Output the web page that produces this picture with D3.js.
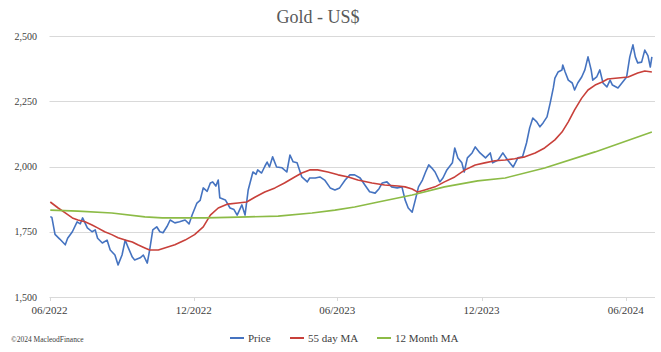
<!DOCTYPE html>
<html>
<head>
<meta charset="utf-8">
<script src="https://cdn.jsdelivr.net/npm/d3@7"></script>
<style>
  body { margin: 0; background: #fff; }
  text { font-family: "Liberation Serif", "DejaVu Serif", serif; }
</style>
</head>
<body>
<svg id="chart" width="661" height="352"></svg>
<script>
// Dias naturales desde el 01/06/2022 y valor del oro (US$)
var startDate = new Date(2022, 5, 1);

var priceDays = [1, 3, 7, 13, 20, 23, 29, 35, 39, 42, 48, 54, 58, 61, 67, 73, 77, 83, 87, 92,
  96, 100, 105, 108, 115, 119, 124, 127, 131, 136, 140, 144, 149, 153, 159, 165, 172, 177, 181, 187,
  191, 195, 200, 204, 207, 211, 214, 216, 223, 229, 234, 238, 244, 248, 252, 258, 262, 264, 269, 273,
  276, 279, 283, 288, 295, 301, 305, 309, 314, 320, 327, 330, 337, 343, 349, 356, 362, 368, 375, 381,
  387, 394, 400, 406, 413, 418, 422, 428, 434, 441, 447, 451, 455, 460, 464, 468, 473, 477, 481, 485,
  489, 495, 499, 504, 511, 514, 518, 523, 526, 530, 536, 540, 546, 553, 559, 562, 569, 575, 581, 588,
  594, 600, 605, 609, 613, 618, 622, 626, 631, 635, 639, 641, 645, 650, 651, 654, 658, 663, 666, 670,
  675, 679, 683, 687, 689, 694, 698, 702, 707, 711, 714, 721, 726, 732, 736, 740, 743, 746, 751, 755,
  759, 762, 764];
var priceValues = [1808, 1805, 1740, 1722, 1700, 1725, 1750, 1788, 1780, 1803, 1765, 1750, 1757, 1725, 1707, 1718, 1680, 1661, 1623, 1661,
  1718, 1688, 1653, 1642, 1650, 1661, 1630, 1680, 1757, 1769, 1750, 1746, 1770, 1795, 1784, 1788, 1795, 1780, 1815, 1860,
  1870, 1918, 1905, 1937, 1941, 1925, 1948, 1880, 1872, 1841, 1835, 1814, 1853, 1814, 1910, 1979, 1970, 1987, 1975, 2000,
  2017, 1998, 2037, 1998, 1995, 1979, 2044, 2018, 2014, 1960, 1941, 1956, 1956, 1960, 1948, 1918, 1910, 1918, 1948, 1968,
  1968, 1956, 1929, 1903, 1898, 1915, 1937, 1941, 1922, 1918, 1922, 1872, 1841, 1825, 1872, 1922, 1948, 1979, 2006, 1994,
  1979, 1941, 1956, 1987, 2014, 2071, 2033, 2014, 1979, 2033, 2052, 2075, 2052, 2033, 2052, 2014, 2025, 2052, 2025, 1998,
  2033, 2037, 2090, 2148, 2186, 2171, 2152, 2167, 2190, 2243, 2301, 2339, 2362, 2370, 2389, 2362, 2331, 2320, 2293, 2320,
  2343, 2370, 2420, 2370, 2331, 2343, 2370, 2320, 2305, 2331, 2312, 2301, 2320, 2343, 2420, 2466, 2420, 2397, 2400, 2446,
  2425, 2381, 2420];

var ma55Days = [1, 11, 20, 29, 36, 45, 54, 61, 70, 79, 87, 96, 105, 112, 121, 127, 138, 146, 159, 172,
  184, 195, 204, 214, 226, 239, 250, 261, 273, 286, 298, 311, 320, 330, 340, 353, 366, 379, 391, 409,
  425, 442, 451, 460, 467, 476, 489, 501, 514, 527, 540, 552, 565, 578, 590, 603, 616, 628, 641, 650,
  658, 666, 675, 683, 692, 701, 708, 721, 734, 746, 755, 764];
var ma55Values = [1864, 1841, 1822, 1803, 1795, 1788, 1776, 1765, 1750, 1739, 1727, 1718, 1711, 1700, 1688, 1680, 1680, 1688, 1700, 1718,
  1739, 1769, 1814, 1841, 1856, 1860, 1864, 1883, 1902, 1918, 1937, 1960, 1975, 1987, 1987, 1979, 1968, 1960, 1948, 1937,
  1929, 1925, 1922, 1914, 1902, 1910, 1922, 1941, 1960, 1987, 2006, 2014, 2022, 2025, 2030, 2037, 2052, 2071, 2102, 2132,
  2171, 2217, 2262, 2293, 2312, 2324, 2335, 2339, 2343, 2358, 2366, 2362];

var ma12mDays = [1, 36, 79, 121, 143, 197, 226, 252, 290, 333, 362, 387, 417, 460, 501, 543, 578, 628, 692, 764];
var ma12mValues = [1833, 1829, 1822, 1807, 1803, 1803, 1805, 1807, 1810, 1822, 1833, 1845, 1864, 1891, 1922, 1945, 1956, 1994, 2056, 2132];

var yTicks = [1500, 1750, 2000, 2250, 2500];
var xTickMonths = ["2022-06-01", "2022-12-01", "2023-06-01", "2023-12-01", "2024-06-01"];

var seriesNames = ["Price", "55 day MA", "12 Month MA"];
var seriesColors = ["#4573c0", "#c8403a", "#8cbb46"];

var svg = d3.select("#chart");
var plotLeft = 49.5, plotRight = 656.6, plotTop = 36, plotBottom = 297;

var parse = d3.timeParse("%Y-%m-%d");
var x = d3.scaleTime()
    .domain([startDate, d3.timeDay.offset(startDate, 770)])
    .range([plotLeft, plotRight]);
var y = d3.scaleLinear().domain([1500, 2500]).range([plotBottom, plotTop]);

function toPoints(days, vals) {
  return days.map(function (d, i) { return { date: d3.timeDay.offset(startDate, d), v: vals[i] }; });
}

// lineas de la cuadricula
svg.append("g").selectAll("line").data(yTicks).enter().append("line")
    .attr("x1", plotLeft).attr("x2", 655)
    .attr("y1", function (d) { return Math.round(y(d)) + 0.5; })
    .attr("y2", function (d) { return Math.round(y(d)) + 0.5; })
    .attr("stroke", "#d9d9d9").attr("stroke-width", 1);

svg.append("g").selectAll("text").data(yTicks).enter().append("text")
    .attr("x", 37).attr("y", function (d) { return y(d) + 3.5; })
    .attr("text-anchor", "end").attr("font-size", 10).attr("fill", "#404040")
    .text(d3.format(","));

// eje x
var xDates = xTickMonths.map(parse);
svg.append("g").selectAll("line").data(xDates).enter().append("line")
    .attr("x1", function (d) { return Math.round(x(d)) + 0.5; })
    .attr("x2", function (d) { return Math.round(x(d)) + 0.5; })
    .attr("y1", plotBottom).attr("y2", plotBottom + 4)
    .attr("stroke", "#d9d9d9");

svg.append("g").selectAll("text").data(xDates).enter().append("text")
    .attr("x", function (d) { return x(d); }).attr("y", 314)
    .attr("text-anchor", "middle").attr("font-size", 11).attr("fill", "#404040")
    .text(d3.timeFormat("%m/%Y"));

// series
var line = d3.line().x(function (d) { return x(d.date); }).y(function (d) { return y(d.v); });
var series = [toPoints(priceDays, priceValues), toPoints(ma55Days, ma55Values), toPoints(ma12mDays, ma12mValues)];
series.forEach(function (s, i) {
  svg.append("path").datum(s)
      .attr("d", line).attr("fill", "none")
      .attr("stroke", seriesColors[i]).attr("stroke-width", 1.6)
      .attr("stroke-linejoin", "round");
});

// titulo
svg.append("text").attr("x", 318).attr("y", 23)
    .attr("text-anchor", "middle").attr("font-size", 18).attr("fill", "#595959")
    .text("Gold - US$");

// leyenda
var legendX = [230, 290, 377];
var lg = svg.append("g").selectAll("g").data(seriesNames).enter().append("g")
    .attr("transform", function (d, i) { return "translate(" + legendX[i] + ",338)"; });
lg.append("line").attr("x1", 0).attr("x2", 14).attr("y1", 0).attr("y2", 0)
    .attr("stroke", function (d, i) { return seriesColors[i]; }).attr("stroke-width", 2);
lg.append("text").attr("x", 18).attr("y", 4).attr("font-size", 11).attr("fill", "#404040")
    .text(function (d) { return d; });

svg.append("text").attr("x", 11).attr("y", 342).attr("font-size", 7.5).attr("fill", "#404040")
    .text("©2024 MacleodFinance");
</script>
</body>
</html>
